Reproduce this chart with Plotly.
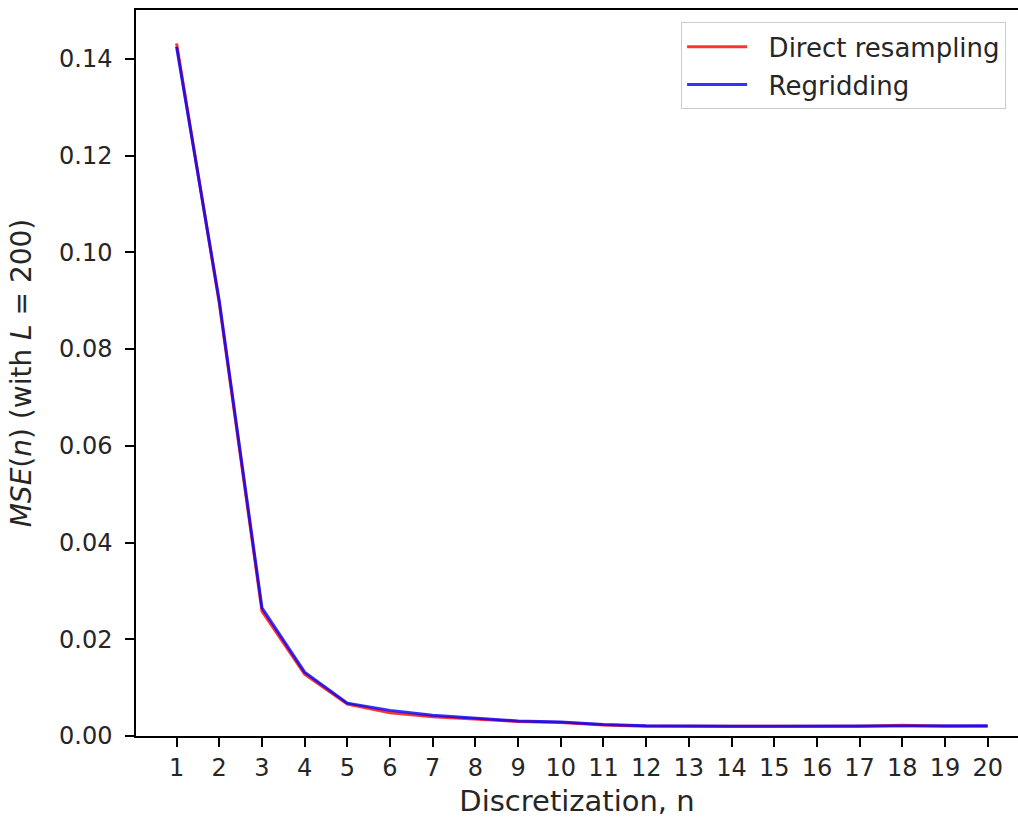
import plotly.graph_objects as go

n_values = list(range(1, 21))
direct_resampling = [0.1432, 0.0895, 0.0258, 0.0128, 0.0066, 0.0048, 0.0040, 0.0035, 0.0030, 0.0028,
                     0.0023, 0.0020, 0.0020, 0.0020, 0.0020, 0.0019, 0.0020, 0.0022, 0.0020, 0.0020]
regridding = [0.1425, 0.0900, 0.0265, 0.0132, 0.0068, 0.0053, 0.0043, 0.0037, 0.0031, 0.0029,
              0.0024, 0.0021, 0.0020, 0.0020, 0.0020, 0.0020, 0.0020, 0.0021, 0.0021, 0.0021]
y_ticks = [0.00, 0.02, 0.04, 0.06, 0.08, 0.10, 0.12, 0.14]
series_names = ["Direct resampling", "Regridding"]

FONT = "DejaVu Sans"
PAD = "\u00a0\u00a0"

fig = go.Figure()
fig.add_trace(go.Scatter(x=n_values, y=direct_resampling, mode="lines", name=PAD + series_names[0],
                         legendgroup="a",
                         line=dict(color="rgba(255,0,0,0.8)", width=3)))
fig.add_trace(go.Scatter(x=n_values, y=regridding, mode="lines", name=PAD + series_names[1],
                         legendgroup="b",
                         line=dict(color="rgba(0,0,255,0.8)", width=3)))

fig.update_layout(
    width=1018, height=820,
    margin=dict(l=136, r=0, t=10, b=84),
    plot_bgcolor="white", paper_bgcolor="white",
    font=dict(family=FONT, size=24, color="#262626"),
    showlegend=True,
    legend=dict(x=0.618, y=0.983, xanchor="left", yanchor="top",
                bgcolor="white", bordercolor="#cccccc", borderwidth=1,
                tracegroupgap=1, traceorder="grouped",
                font=dict(family=FONT, size=26, color="#262626"), itemwidth=60),
    xaxis=dict(range=[0.05, 20.71], tickvals=n_values, ticktext=[str(v) for v in n_values],
               showgrid=False, zeroline=False, showline=True, linecolor="black", linewidth=1.5,
               mirror=True, ticks="outside", ticklen=9, tickwidth=1.5, tickcolor="black",
               tickfont=dict(family=FONT, size=24),
               title=dict(text="Discretization, n", font=dict(family=FONT, size=29), standoff=10)),
    yaxis=dict(range=[0, 0.1501], tickvals=y_ticks, ticktext=[f"{v:.2f}" for v in y_ticks],
               showgrid=False, zeroline=False, showline=True, linecolor="black", linewidth=1.5,
               mirror=False, ticks="outside", ticklen=9, tickwidth=1.5, tickcolor="black",
               tickfont=dict(family=FONT, size=24), ticklabelstandoff=8,
               title=dict(text="<i>MSE</i>(<i>n</i>) (with <i>L</i> = 200)",
                          font=dict(family=FONT, size=28), standoff=19)),
)

fig.write_html("out.html")
